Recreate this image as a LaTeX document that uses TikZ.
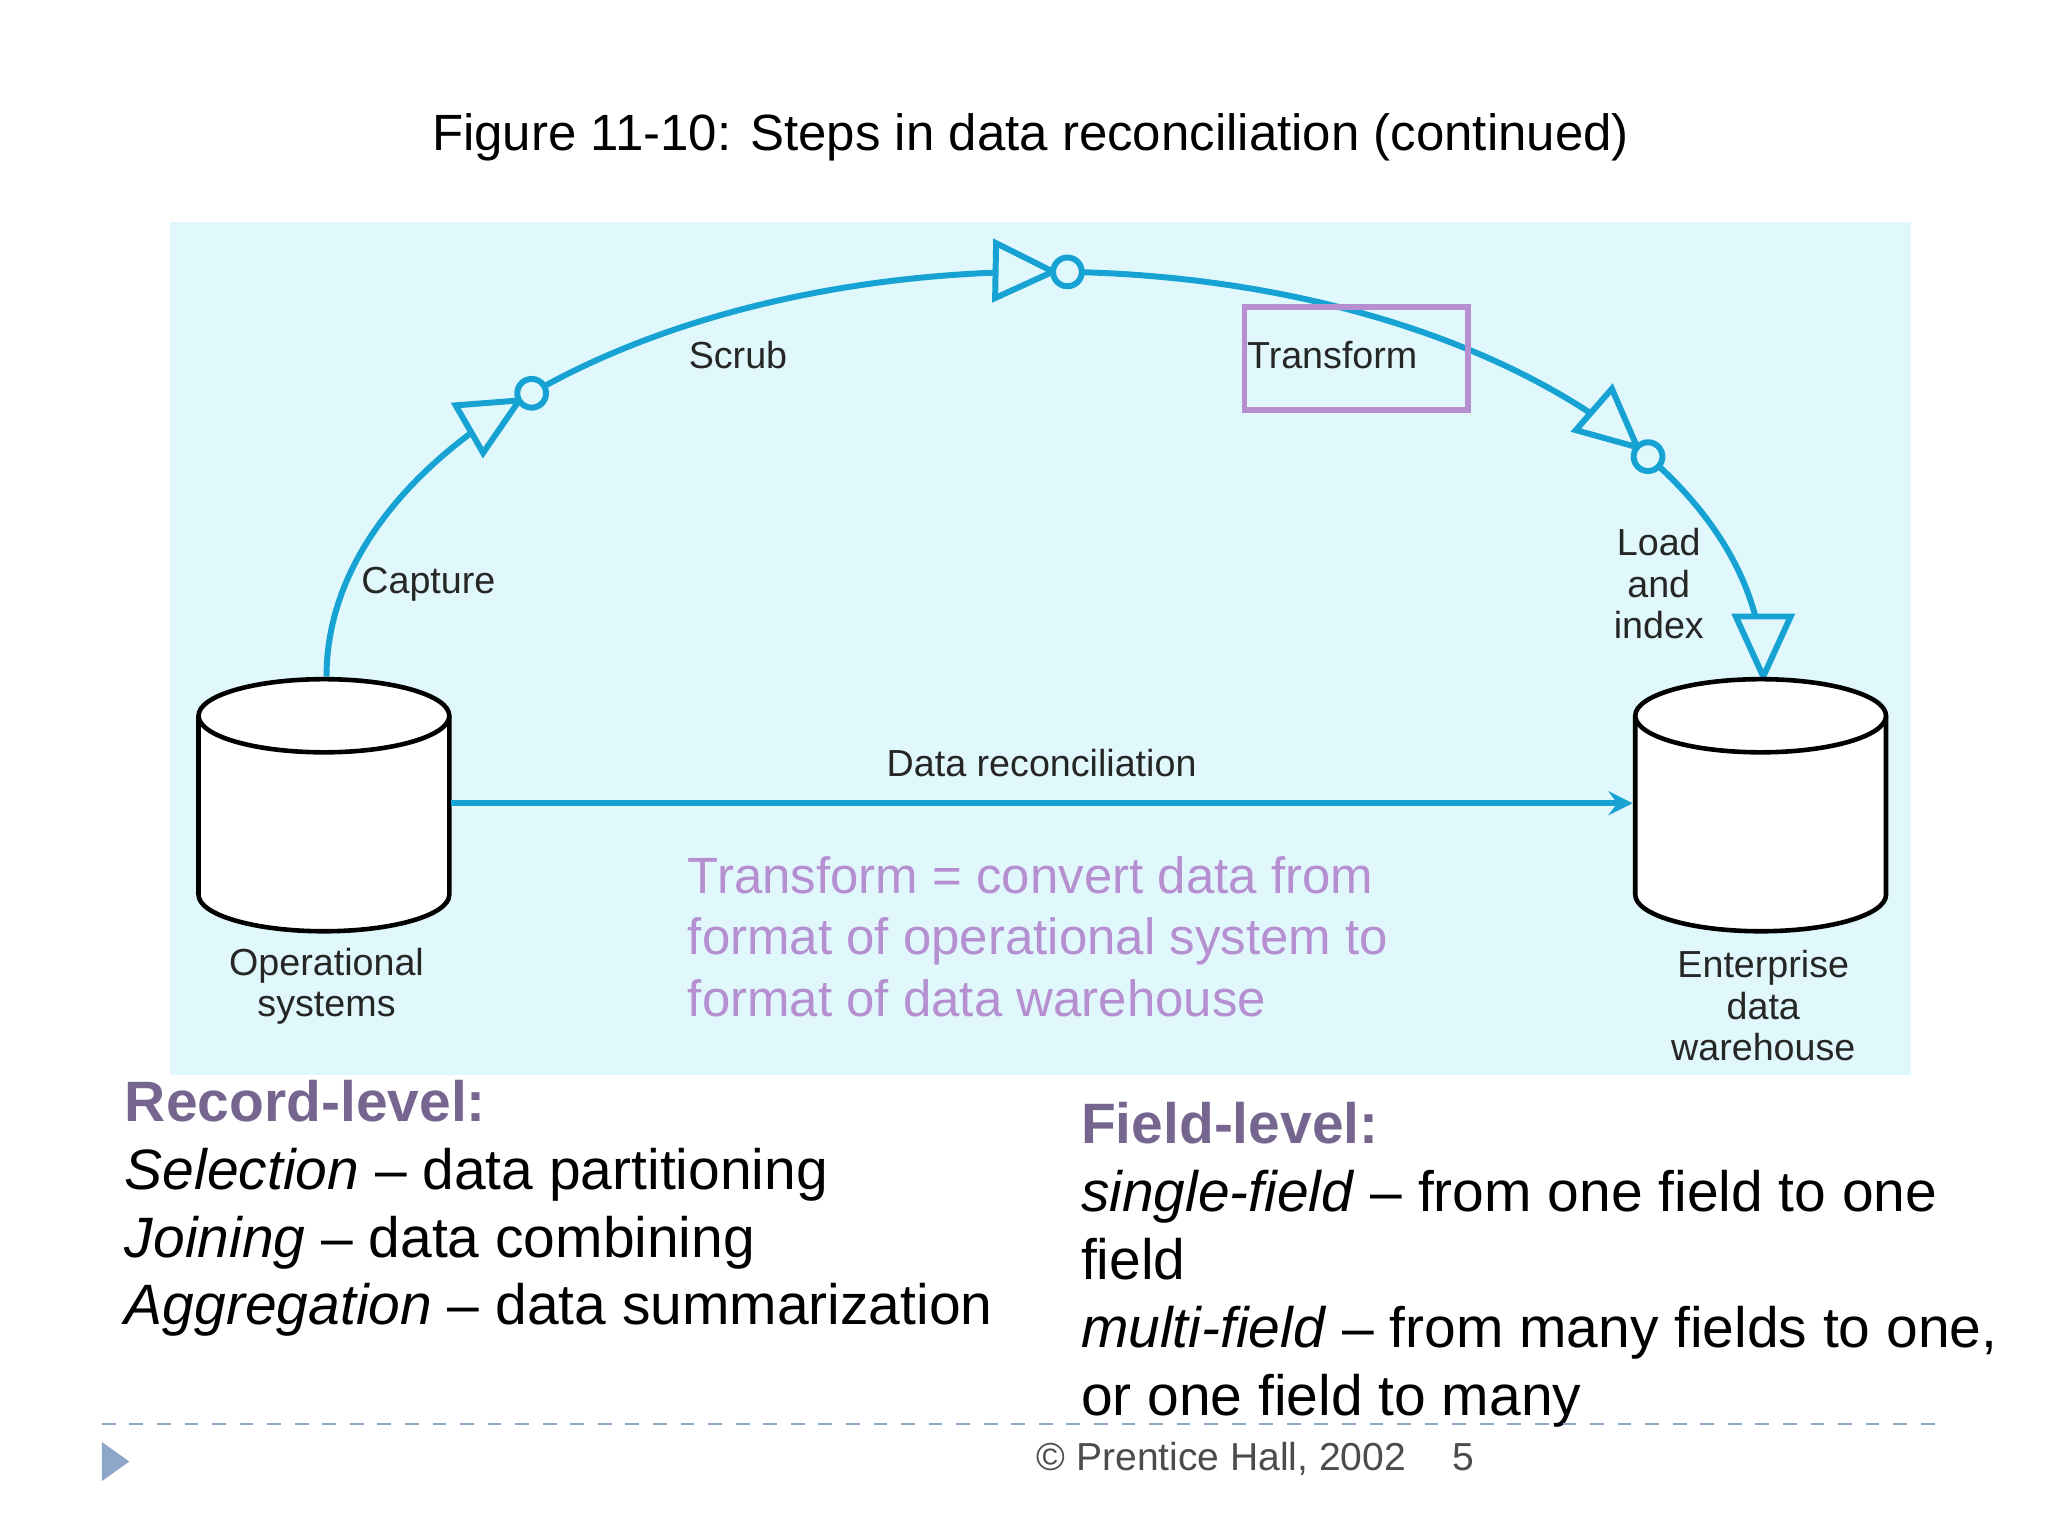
\documentclass[tikz,border=0pt]{standalone}
\usepackage{fontspec}
\setmainfont{Liberation Sans}
\begin{document}
\begin{tikzpicture}[x=0.01cm,y=0.01cm,
  flow/.style={draw=cyanline,line width=1.3pt},
  lbl/.style={font=\fontsize{8.2}{10}\selectfont,align=center,inner sep=0pt,text=black!85},
  big/.style={font=\fontsize{12.4}{14.8}\selectfont,align=left,anchor=north west,inner sep=0pt}]
\definecolor{bg}{HTML}{E0F8FC}
\definecolor{cyanline}{HTML}{16A2D2}
\definecolor{purp}{HTML}{B58FD0}
\definecolor{headp}{HTML}{76668F}
\definecolor{footb}{HTML}{8EA6C8}
\useasboundingbox (0,0) rectangle (1568,-1176);
\fill[bg] (130,-170) rectangle (1463,-823);
\node[font=\fontsize{11.1}{12}\selectfont] (title) at (789,-105) {Figure 11-10: Steps in data reconciliation (continued)};
% arc
\draw[flow] (250,-518) arc[start angle=180,end angle=0,x radius=550,y radius=310];
\foreach \t in {135.6,88.2,32.9}{
  \begin{scope}[shift={({800+550*cos(\t)},{-518+310*sin(\t)})},rotate={atan2(-310*cos(\t),550*sin(\t))}]
    \draw[flow,fill=bg] (-11,0) -- (-55,21) -- (-55,-21) -- cycle;
    \draw[flow,fill=bg] (0,0) circle (11);
  \end{scope}}
\begin{scope}[shift={(1350,-518)},rotate=-90]
  \draw[flow,fill=bg] (0,0) -- (-46,21) -- (-46,-21) -- cycle;
\end{scope}
% cylinders
\foreach \n/\x in {op/248,dw/1348}{
  \draw[line width=1pt,fill=white] (\x-96,-548) -- (\x-96,-685) arc[start angle=180,end angle=360,x radius=96,y radius=28] -- (\x+96,-548);
  \draw[line width=1pt,fill=white] (\x,-548) ellipse (96 and 28);
}
\coordinate (opR) at (345,-615);
\coordinate (dwL) at (1250,-615);
\draw[flow,-stealth] (opR) -- node[lbl,above=5pt] {Data reconciliation} (dwL);
\node[lbl] (scrub) at (565,-272) {Scrub};
\draw[purp,line width=1.2pt] (953,-235) rectangle (1124,-314);
\node[lbl] (tr) at (1020,-272) {Transform};
\node[lbl] (cap) at (328,-447) {Capture};
\node[lbl,font=\fontsize{8.2}{9}\selectfont] (load) at (1270,-447) {Load\\and\\index};
\node[lbl,font=\fontsize{8.2}{9}\selectfont] (ops) at (250,-755) {Operational\\systems};
\node[lbl,font=\fontsize{8.2}{9}\selectfont] (edw) at (1350,-770) {Enterprise\\data\\warehouse};
\node[big,text=purp,font=\fontsize{11.1}{13.4}\selectfont] (def) at (526,-655) {Transform = convert data from\\format of operational system to\\format of data warehouse};
\node[big] (rec) at (95,-826) {\textbf{\textcolor{headp}{Record-level:}}\\
\textit{Selection} -- data partitioning\\
\textit{Joining} -- data combining\\
\textit{Aggregation} -- data summarization};
\node[big] (fld) at (827,-843) {\textbf{\textcolor{headp}{Field-level:}}\\
\textit{single-field} -- from one field to one\\
field\\
\textit{multi-field} -- from many fields to one,\\
or one field to many};
\draw[footb,dashed,line width=0.5pt] (78,-1090) -- (1490,-1090);
\fill[footb] (78,-1104) -- (99,-1119) -- (78,-1134) -- cycle;
\node[anchor=west,inner sep=0pt,text=black!70,font=\fontsize{8.5}{10}\selectfont] (foot) at (793,-1117) {© Prentice Hall, 2002\hspace{1.2em}5};
\end{tikzpicture}
\end{document}
